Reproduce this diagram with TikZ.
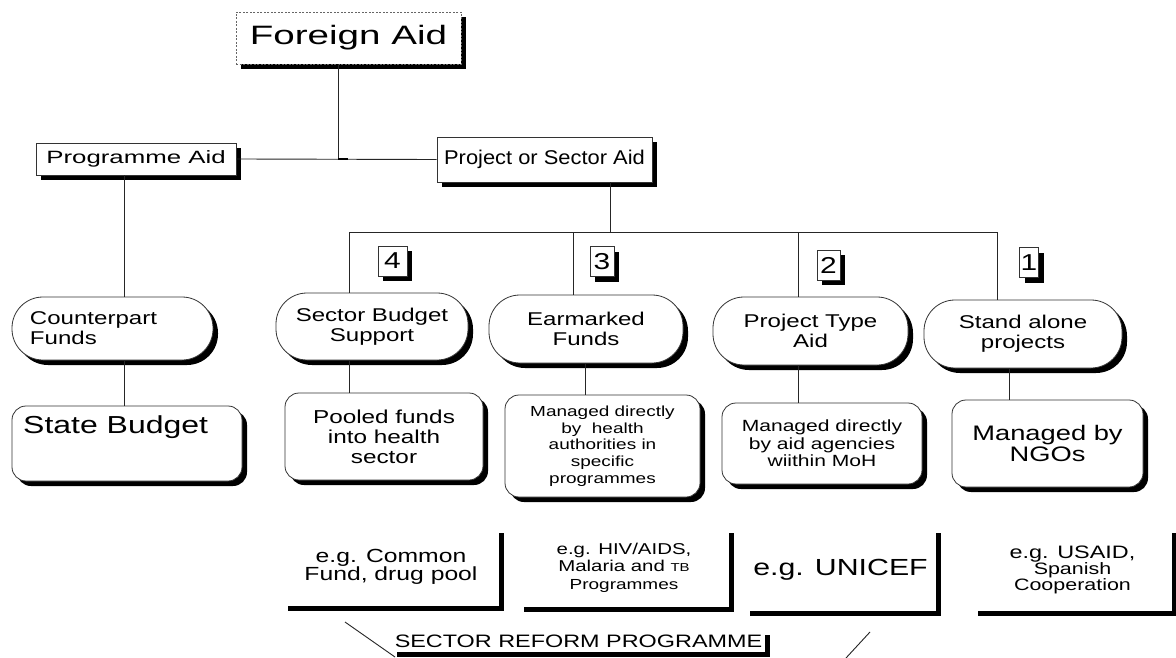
\documentclass[tikz,border=0pt]{standalone}
\usepackage{fontspec}
\setmainfont{Liberation Sans}
\newfontfamily\ws[FakeStretch=1.3]{Liberation Sans}
\newfontfamily\wb[FakeStretch=1.45]{Liberation Sans}
\newfontfamily\wn[FakeStretch=1.1]{Liberation Sans}
\usetikzlibrary{shadows}
\newcommand\fs[2]{\fontsize{#1}{#2}\selectfont}
\tikzset{
  shad/.style={drop shadow={shadow xshift=5pt,shadow yshift=-5pt,fill=black,opacity=1}},
  plainbox/.style={draw=black!80,line width=0.8pt,fill=white,shad,inner sep=0pt,align=center},
  pill/.style={plainbox,rounded corners=31pt,font=\ws\fs{18.5}{20}},
  rbox/.style={plainbox,rounded corners=14pt},
  numbox/.style={plainbox,minimum height=30pt,font=\ws\fs{23}{23}},
  egbox/.style={fill=white,shad,inner sep=0pt,align=center},
  conn/.style={draw=black!85,line width=0.9pt},
}
\begin{document}
\begin{tikzpicture}[x=1pt,y=-1pt]
\useasboundingbox[fill=white] (0,0) rectangle (1176,658);

% top level
\node[plainbox,draw=black!60,dash pattern=on 2pt off 1.5pt,minimum width=225pt,minimum height=52pt,font=\wb\fs{26.6}{30}] (fa) at (348.5,38) {Foreign Aid};
\node[plainbox,minimum width=200pt,minimum height=32pt,font=\wb\fs{17.8}{20}] (pa) at (136,159) {Programme Aid};
\node[plainbox,minimum width=215pt,minimum height=45pt,font=\wn\fs{19.9}{22}] (pj) at (544.5,159.5) {Project or Sector Aid};

% pills
\node[pill,text width=165pt,inner xsep=18pt,align=left,minimum height=63pt] (cf) at (112.5,328.5) {Counterpart\\Funds};
\node[pill,minimum width=192pt,minimum height=67pt] (sbs) at (372,326.5) {Sector Budget\\Support};
\node[pill,minimum width=194pt,minimum height=68pt] (ef) at (586,329) {Earmarked\\Funds};
\node[pill,minimum width=195pt,minimum height=68pt] (pt) at (810.5,331) {Project Type\\Aid};
\node[pill,minimum width=198pt,minimum height=68pt] (sa) at (1023,334) {Stand alone\\projects};

% number boxes
\node[numbox,minimum width=29pt] (n4) at (392.5,261) {4};
\node[numbox,minimum width=24pt] (n3) at (602,261.5) {3};
\node[numbox,minimum width=23pt] (n2) at (828.5,265) {2};
\node[numbox,minimum width=19pt] (n1) at (1029,262.5) {1};

% rounded boxes
\node[rbox,minimum width=230pt,minimum height=75pt] (sb) at (127,443.5) {};
\node[anchor=west,inner sep=0pt,font=\ws\fs{24.6}{26}] (sbt) at (23,427) {State Budget};
\node[rbox,minimum width=198pt,minimum height=87pt,font=\ws\fs{18.7}{20}] (pf) at (384,436.5) {Pooled funds\\into health\\sector};
\node[rbox,minimum width=195pt,minimum height=102pt,font=\ws\fs{14.6}{16.7}] (md) at (602.5,446) {Managed directly\\by~~health\\authorities in\\specific\\programmes};
\node[rbox,minimum width=200pt,minimum height=81pt,font=\ws\fs{16.2}{17.5}] (ma) at (822,443.5) {Managed directly\\by aid agencies\\wiithin MoH};
\node[rbox,minimum width=191pt,minimum height=87pt,font=\ws\fs{21}{21.7}] (ngo) at (1047.5,443.5) {Managed by\\NGOs};

% example boxes
\node[egbox,minimum width=216pt,minimum height=78pt,font=\ws\fs{19}{18.5}] (eg4) at (391,567) {e.g. Common\\Fund, drug pool};
\node[egbox,minimum width=210pt,minimum height=79pt,font=\ws\fs{15.7}{17.5}] (eg3) at (624,567.5) {e.g. HIV/AIDS,\\Malaria and {\fs{11.5}{17.5}TB}\\{\fs{14.6}{17.5}Programmes}};
\node[egbox,minimum width=191pt,minimum height=83pt,font=\ws\fs{23.3}{25}] (eg2) at (840.5,569.5) {e.g. UNICEF};
\node[egbox,minimum width=199pt,minimum height=83pt,font=\ws\fs{18}{16}] (eg1) at (1072.5,569.5) {e.g. USAID,\\{\fs{16.5}{16}Spanish}\\{\fs{16.5}{16}Cooperation}};
\node[egbox,minimum width=373pt,minimum height=22pt,font=\ws\fs{18}{20}] (srp) at (578.5,641) {SECTOR REFORM PROGRAMME};

% connectors
\coordinate (j1) at (338,159);
\draw[conn] (fa.south -| j1) -- (j1);
\draw[conn] (pa.east) -- (pj.west);
\draw[line width=2pt] (j1) -- ++(10,0);

\coordinate (c0) at (124,0);
\draw[conn] (pa.south -| c0) -- (cf.north -| c0);
\draw[conn] (cf.south -| c0) -- (sb.north -| c0);

\coordinate (bus) at (610,232);
\coordinate (b4) at (349,232);
\coordinate (b3) at (573,232);
\coordinate (b2) at (798,232);
\coordinate (b1) at (997,232);
\draw[conn] (pj.south -| bus) -- (bus);
\draw[conn] (b4) -- (b1);
\draw[conn] (b4) -- (sbs.north -| b4);
\draw[conn] (b3) -- (ef.north -| b3);
\draw[conn] (b2) -- (pt.north -| b2);
\draw[conn] (b1) -- (sa.north -| b1);

\coordinate (l4) at (349,0);
\coordinate (l3) at (585,0);
\coordinate (l2) at (798,0);
\coordinate (l1) at (1009,0);
\draw[conn] (sbs.south -| l4) -- (pf.north -| l4);
\draw[conn] (ef.south -| l3) -- (md.north -| l3);
\draw[conn] (pt.south -| l2) -- (ma.north -| l2);
\draw[conn] (sa.south -| l1) -- (ngo.north -| l1);

\coordinate (dl1) at (345,622);
\coordinate (dl2) at (395,657);
\coordinate (dr1) at (870,632);
\coordinate (dr2) at (846,658);
\draw[conn] (dl1) -- (dl2);
\draw[conn] (dr1) -- (dr2);
\end{tikzpicture}
\end{document}
